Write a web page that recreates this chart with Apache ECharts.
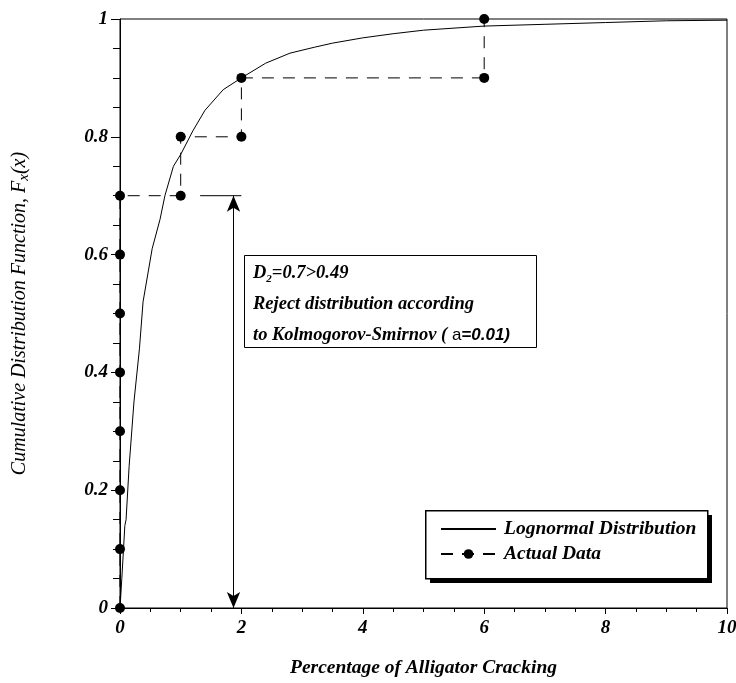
<!DOCTYPE html>
<html><head><meta charset="utf-8">
<script src="https://cdn.jsdelivr.net/npm/echarts@6/dist/echarts.min.js"></script>
<style>html,body{margin:0;padding:0;background:#fff}#c{width:736px;height:683px}</style>
</head><body><div id="c"></div>
<script>
// Lognormal CDF curve
var curveX = [0, 0.03, 0.08, 0.1, 0.15, 0.23, 0.32, 0.38, 0.53, 0.66, 0.74, 0.88, 1.0, 1.2, 1.4, 1.7, 2.0, 2.4, 2.8, 3.2, 3.5, 4.0, 4.5, 5.0, 6.0, 7.0, 8.0, 9.0, 10];
var curveY = [0, 0.05, 0.14, 0.15, 0.24, 0.35, 0.44, 0.52, 0.61, 0.66, 0.70, 0.75, 0.77, 0.81, 0.845, 0.88, 0.90, 0.925, 0.942, 0.952, 0.959, 0.968, 0.975, 0.981, 0.988, 0.991, 0.994, 0.997, 0.998];
// Actual data (step path)
var dataX = [0, 0, 0, 0, 0, 0, 0, 0, 1, 1, 2, 2, 6, 6];
var dataY = [0, 0.1, 0.2, 0.3, 0.4, 0.5, 0.6, 0.7, 0.7, 0.8, 0.8, 0.9, 0.9, 1.0];
// Annotation: D statistic segment
var dSegX = [1.32, 2.0];
var dSegY = [0.7, 0.7];
var arrowX = 1.87, arrowTop = 0.7, arrowBottom = 0;
var xTicks = [0, 2, 4, 6, 8, 10];
var yTicks = [0, 0.2, 0.4, 0.6, 0.8, 1];

function zip(a, b) { return a.map(function (v, i) { return [v, b[i]]; }); }
var serif = '"Liberation Serif", "Times New Roman", serif';
var sans = '"Liberation Sans", Arial, sans-serif';

var chart = echarts.init(document.getElementById('c'));
chart.setOption({
  animation: false,
  backgroundColor: '#fff',
  grid: { left: 120, right: 9, top: 19, bottom: 75, show: true, borderColor: '#000', borderWidth: 1, outerBoundsMode: 'none', containLabel: false },
  xAxis: {
    type: 'value', min: 0, max: 10, interval: 2,
    name: 'Percentage of Alligator Cracking', nameLocation: 'middle', nameGap: 50,
    nameTextStyle: { fontFamily: serif, fontSize: 19.5, fontWeight: 'bold', fontStyle: 'italic', color: '#000' },
    axisLine: { lineStyle: { color: '#000', width: 1 } },
    axisTick: { show: true, length: 6, inside: false, lineStyle: { color: '#000' } },
    minorTick: { show: true, splitNumber: 4, length: 4, lineStyle: { color: '#000' } },
    splitLine: { show: false },
    axisLabel: { margin: 11, fontFamily: serif, fontSize: 19, fontWeight: 'bold', fontStyle: 'italic', color: '#000',
      formatter: function (v) { return xTicks.indexOf(v) >= 0 ? String(v) : ''; } }
  },
  yAxis: {
    type: 'value', min: 0, max: 1, interval: 0.2,
    name: '{t|Cumulative Distribution Function, F}{s|x}{t|(x)}', nameLocation: 'middle', nameGap: 88, nameRotate: 90,
    nameTextStyle: { rich: {
      t: { fontFamily: serif, fontSize: 20, fontStyle: 'italic', color: '#000' },
      s: { fontFamily: serif, fontSize: 15, fontStyle: 'italic', color: '#000', verticalAlign: 'bottom', padding: [10, 0, 0, 0] }
    } },
    axisLine: { lineStyle: { color: '#000', width: 1 } },
    axisTick: { show: true, length: 9, lineStyle: { color: '#000' } },
    minorTick: { show: true, splitNumber: 4, length: 7, lineStyle: { color: '#000' } },
    splitLine: { show: false },
    axisLabel: { margin: 12, fontFamily: serif, fontSize: 19, fontWeight: 'bold', fontStyle: 'italic', color: '#000',
      formatter: function (v) { var i = yTicks.findIndex(function (t) { return Math.abs(t - v) < 1e-9; }); return i >= 0 ? String(yTicks[i]) : ''; } }
  },
  legend: {
    orient: 'vertical', left: 425, top: 510, z: 20,
    data: [
      { name: 'Lognormal Distribution', itemStyle: { opacity: 0 } },
      { name: 'Actual Data' }
    ],
    itemWidth: 55, itemHeight: 12, itemGap: 5,
    padding: [9, 10, 10, 15],
    backgroundColor: 'transparent', borderWidth: 0,
    textStyle: { fontFamily: serif, fontSize: 19.5, fontWeight: 'bold', fontStyle: 'italic', color: '#000', padding: [0, 0, 0, 3] }
  },
  series: [
    {
      name: 'Lognormal Distribution', type: 'line', data: zip(curveX, curveY),
      showSymbol: false, symbol: 'none', smooth: false,
      lineStyle: { color: '#000', width: 1 }, itemStyle: { color: '#000' }, z: 3
    },
    {
      name: 'Actual Data', type: 'line', data: zip(dataX, dataY),
      symbol: 'circle', symbolSize: 10, showSymbol: true,
      lineStyle: { color: '#000', width: 1, type: [12, 9] }, itemStyle: { color: '#000' }, z: 4
    },
    {
      name: 'D segment', type: 'line', data: zip(dSegX, dSegY), symbol: 'none',
      lineStyle: { color: '#000', width: 1 }, silent: true,
      markLine: {
        silent: true, symbol: ['arrow', 'arrow'], symbolSize: [10, 16], label: { show: false },
        lineStyle: { color: '#000', width: 1, type: 'solid' },
        data: [[{ coord: [arrowX, arrowTop] }, { coord: [arrowX, arrowBottom] }]]
      }
    }
  ],
  graphic: [
    { type: 'rect', left: 244, top: 255, shape: { width: 292, height: 92 }, style: { fill: '#fff', stroke: '#000', lineWidth: 1 }, z: 10 },
    { type: 'text', left: 253, top: 262, z: 11, style: {
      text: '{a|D}{b|2}{a|=0.7>0.49}\n{a|Reject distribution according}\n{a|to Kolmogorov-Smirnov ( }{c|a}{d|=0.01)}',
      rich: {
        a: { fontFamily: serif, fontSize: 18.5, fontWeight: 'bold', fontStyle: 'italic', fill: '#000', lineHeight: 31 },
        b: { fontFamily: serif, fontSize: 11, fontWeight: 'bold', fontStyle: 'italic', fill: '#000', lineHeight: 31, padding: [12, 0, 0, 0] },
        c: { fontFamily: sans, fontSize: 17, fill: '#000', lineHeight: 31 },
        d: { fontFamily: sans, fontSize: 17, fontWeight: 'bold', fontStyle: 'italic', fill: '#000', lineHeight: 31 }
      } } },
    { type: 'rect', left: 430, top: 515, shape: { width: 282, height: 68 }, style: { fill: '#000' }, z: 12 },
    { type: 'rect', left: 425, top: 510, shape: { width: 282, height: 68 }, style: { fill: '#fff', stroke: '#000', lineWidth: 1.5 }, z: 13 }
  ]
});
</script></body></html>
